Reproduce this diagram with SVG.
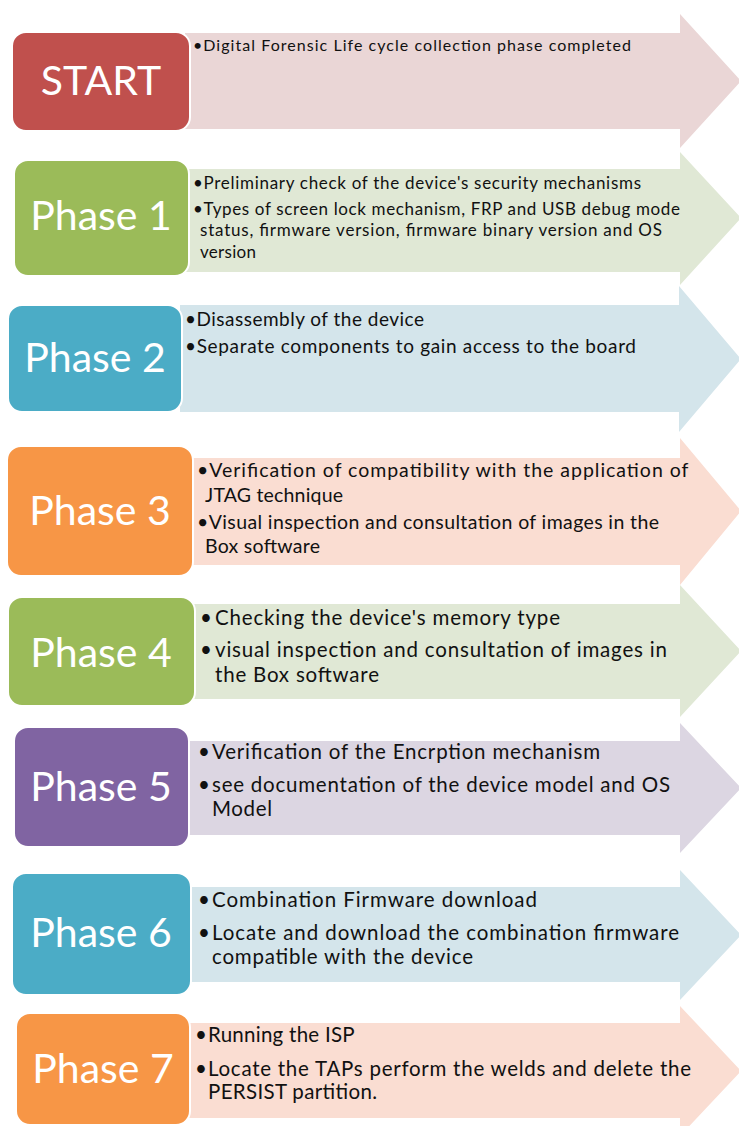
<svg xmlns="http://www.w3.org/2000/svg" width="739" height="1126" viewBox="0 0 739 1126">
<style>
.lbl{font-family:Lato,"Open Sans","Liberation Sans",sans-serif;font-size:41px;fill:#fff;text-anchor:middle}
.t{font-family:Lato,"Open Sans","Liberation Sans",sans-serif;fill:#111}
.box{stroke:#fff;stroke-width:2}
.red{fill:#C0504D}.redl{fill:#EAD6D6}
.grn{fill:#9BBB59}.grnl{fill:#E0E8D5}
.blu{fill:#4BACC6}.blul{fill:#D4E5EB}
.org{fill:#F79646}.orgl{fill:#FADDD2}
.pur{fill:#8064A2}.purl{fill:#DCD6E2}
</style>
<rect width="739" height="1126" fill="#fff"/>

<g id="start">
<polygon class="redl" points="185,33 680,33 680,14 741,81 680,148 680,129 185,129"/>
<rect class="box red" x="12" y="32" width="178" height="99" rx="14"/>
<text class="lbl" x="101" y="95">START</text>
<text class="t" font-size="16" x="193" y="51" textLength="438">•Digital Forensic Life cycle collection phase completed</text>
</g>

<g id="phase1">
<polygon class="grnl" points="185,169 680,169 680,152 741,218 680,285 680,272 185,272"/>
<rect class="box grn" x="14" y="160" width="175" height="116" rx="14"/>
<text class="lbl" x="101" y="230">Phase 1</text>
<text class="t" font-size="17">
<tspan x="193" y="189" textLength="448">•Preliminary check of the device's security mechanisms</tspan>
<tspan x="193" y="215" textLength="487">•Types of screen lock mechanism, FRP and USB debug mode</tspan>
<tspan x="200" y="236" textLength="462">status, firmware version, firmware binary version and OS</tspan>
<tspan x="200" y="258" textLength="56">version</tspan>
</text>
</g>

<g id="phase2">
<polygon class="blul" points="180,305 679,305 679,286 741,359 679,432 679,412 180,412"/>
<rect class="box blu" x="8" y="305" width="174" height="107" rx="14"/>
<text class="lbl" x="95" y="372">Phase 2</text>
<text class="t" font-size="19">
<tspan x="185" y="326" textLength="239">•Disassembly of the device</tspan>
<tspan x="185" y="353" textLength="451">•Separate components to gain access to the board</tspan>
</text>
</g>

<g id="phase3">
<polygon class="orgl" points="190,458 680,458 680,438 741,511 680,585 680,565 190,565"/>
<rect class="box org" x="7" y="446" width="186" height="130" rx="14"/>
<text class="lbl" x="100" y="525">Phase 3</text>
<text class="t" font-size="19.5">
<tspan x="197" y="477" textLength="491">•Verification of compatibility with the application of</tspan>
<tspan x="205" y="502" textLength="138">JTAG technique</tspan>
<tspan x="197" y="529" textLength="462">•Visual inspection and consultation of images in the</tspan>
<tspan x="205" y="553" textLength="115">Box software</tspan>
</text>
</g>

<g id="phase4">
<polygon class="grnl" points="190,604 680,604 680,585 741,651 680,717 680,699 190,699"/>
<rect class="box grn" x="8" y="597" width="187" height="109" rx="14"/>
<text class="lbl" x="101" y="667">Phase 4</text>
<text class="t" font-size="20.5">
<tspan x="200" y="625">•</tspan><tspan x="215" y="625" textLength="345">Checking the device's memory type</tspan>
<tspan x="200" y="657">•</tspan><tspan x="215" y="657" textLength="452">visual inspection and consultation of images in</tspan>
<tspan x="215" y="682" textLength="164">the Box software</tspan>
</text>
</g>

<g id="phase5">
<polygon class="purl" points="185,741 680,741 680,723 741,788 680,853 680,835 185,835"/>
<rect class="box pur" x="14" y="727" width="175" height="120" rx="14"/>
<text class="lbl" x="101" y="801">Phase 5</text>
<text class="t" font-size="20.5">
<tspan x="198" y="759">•</tspan><tspan x="212" y="759" textLength="388">Verification of the Encrption mechanism</tspan>
<tspan x="198" y="792">•</tspan><tspan x="212" y="792" textLength="458">see documentation of the device model and OS</tspan>
<tspan x="212" y="816" textLength="60">Model</tspan>
</text>
</g>

<g id="phase6">
<polygon class="blul" points="185,887 680,887 680,870 741,935 680,1000 680,982 185,982"/>
<rect class="box blu" x="12" y="873" width="179" height="122" rx="14"/>
<text class="lbl" x="101" y="947">Phase 6</text>
<text class="t" font-size="20.5">
<tspan x="198" y="907">•</tspan><tspan x="212" y="907" textLength="325">Combination Firmware download</tspan>
<tspan x="198" y="940">•</tspan><tspan x="212" y="940" textLength="467">Locate and download the combination firmware</tspan>
<tspan x="212" y="964" textLength="261">compatible with the device</tspan>
</text>
</g>

<g id="phase7">
<polygon class="orgl" points="185,1023 680,1023 680,1006 741,1071 680,1136 680,1118 185,1118"/>
<rect class="box org" x="16" y="1013" width="174" height="112" rx="14"/>
<text class="lbl" x="103" y="1083">Phase 7</text>
<text class="t" font-size="20.5">
<tspan x="195" y="1042">•</tspan><tspan x="208" y="1042" textLength="146">Running the ISP</tspan>
<tspan x="195" y="1076">•</tspan><tspan x="208" y="1076" textLength="483">Locate the TAPs perform the welds and delete the</tspan>
<tspan x="208" y="1099" textLength="169">PERSIST partition.</tspan>
</text>
</g>
</svg>
